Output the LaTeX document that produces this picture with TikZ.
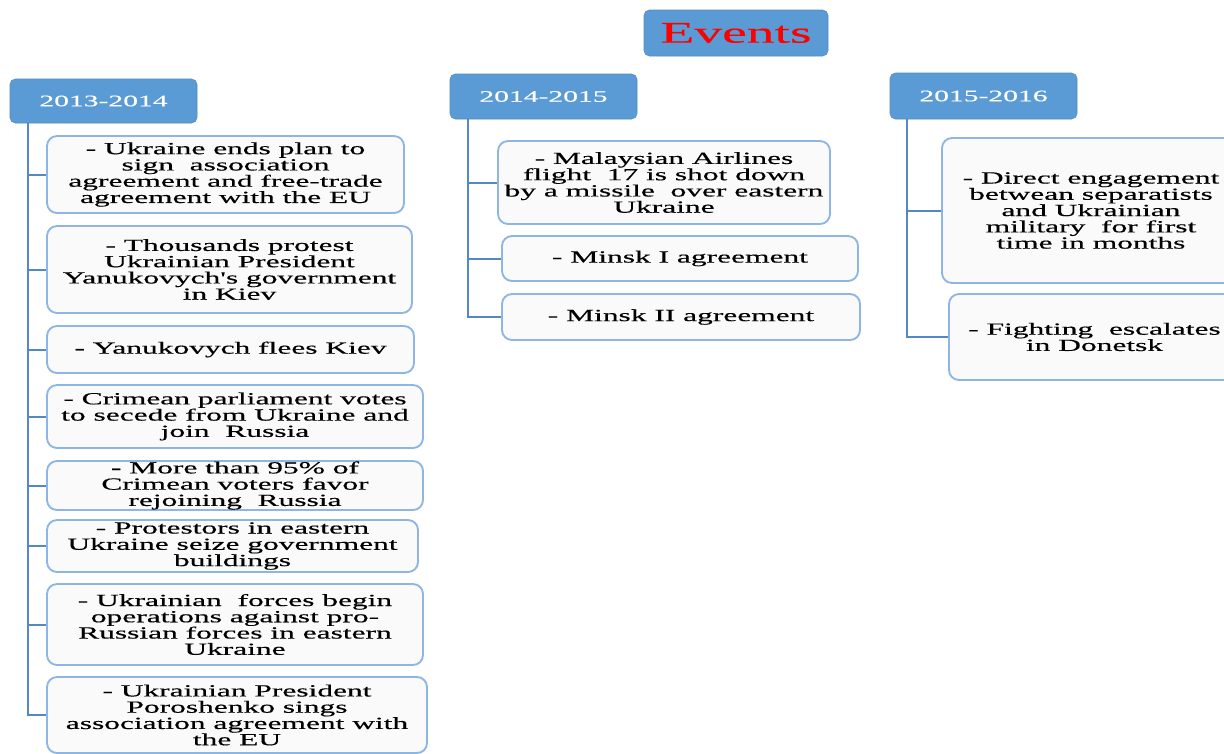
\documentclass[tikz,border=0pt]{standalone}
\usepackage{fontspec}
\setmainfont{Liberation Serif}[FakeStretch=1.85,FakeBold=0.4,Ligatures=TeXOff]
\definecolor{hdr}{RGB}{91,155,213}
\definecolor{bord}{RGB}{141,182,228}
\definecolor{conn}{RGB}{84,136,196}
\definecolor{bfill}{RGB}{250,250,251}
\tikzset{
  ebox/.style={draw=bord, line width=1.4pt, fill=bfill, rounded corners=7.5pt, align=center, inner sep=0pt,
    font=\fontsize{12.75}{12.2}\selectfont},
  hbox/.style={draw=hdr!90!black, line width=0.4pt, fill=hdr, rounded corners=4pt, align=center, inner sep=0pt,
    text=white, font=\fontsize{12}{12}\selectfont},
  cline/.style={draw=conn, line width=1.5pt},
}
\newcommand\bx[7][ebox]{%
  \node[#1, minimum width={(#5-#3)*0.75pt}, minimum height={(#6-#4)*0.75pt}] (#2) at ({(#3+#5)/2},{(#4+#6)/2}) {#7};}
\begin{document}
\begin{tikzpicture}[x=0.75pt,y=-0.75pt]
\useasboundingbox (0,0) rectangle (1224,753);
\clip (0,0) rectangle (1224,753);
\coordinate (t1) at (28,123);
\coordinate (t2) at (468,119);
\coordinate (t3) at (907,119);
% title
\bx[hbox]{title}{644}{10}{828}{56}{\fontsize{22.5}{22.5}\selectfont\color{red}Events}
% headers
\bx[hbox]{h1}{10}{79}{197}{123}{2013-2014}
\bx[hbox]{h2}{450}{74}{637}{119}{2014-2015}
\bx[hbox]{h3}{890}{73}{1077}{119}{2015-2016}
% column 1
\bx{a1}{47}{136}{404}{213}{- Ukraine ends plan to\\ sign\ \ association\\ agreement and free-trade\\ agreement with the EU}
\bx{a2}{47}{226}{412}{313}{- Thousands protest\\ Ukrainian President\\ Yanukovych's government\\ in Kiev}
\bx{a3}{47}{326}{414}{373}{- Yanukovych flees Kiev}
\bx{a4}{47}{385}{423}{448}{- Crimean parliament votes\\ to secede from Ukraine and\\ join\ \ Russia}
\bx{a5}{47}{461}{423}{510}{- More than 95\% of\\ Crimean voters favor\\ rejoining\ \ Russia}
\bx{a6}{47}{520}{418}{572}{- Protestors in eastern\\ Ukraine seize government\\ buildings}
\bx{a7}{47}{584}{423}{665}{- Ukrainian\ \ forces begin\\ operations against pro-\\ Russian forces in eastern\\ Ukraine}
\bx{a8}{47}{677}{427}{753}{- Ukrainian President\\ Poroshenko sings\\ association agreement with\\ the EU}
% column 2
\bx{b1}{498}{141}{830}{224}{- Malaysian Airlines\\ flight\ \ 17 is shot down\\ by a missile\ \ over eastern\\ Ukraine}
\bx{b2}{502}{236}{858}{281}{- Minsk I agreement}
\bx{b3}{502}{294}{860}{340}{- Minsk II agreement}
% column 3
\bx{c1}{942}{138}{1240}{283}{- Direct engagement\\ betwean separatists\\ and Ukrainian\\ military\ \ for first\\ time in months}
\bx{c2}{949}{294}{1240}{380}{- Fighting\ \ escalates\\ in Donetsk}
% connectors
\foreach \n in {a1,a2,a3,a4,a5,a6,a7,a8} {\draw[cline] (t1) |- (\n.west);}
\foreach \n in {b1,b2,b3} {\draw[cline] (t2) |- (\n.west);}
\foreach \n in {c1,c2} {\draw[cline] (t3) |- (\n.west);}
\end{tikzpicture}
\end{document}
